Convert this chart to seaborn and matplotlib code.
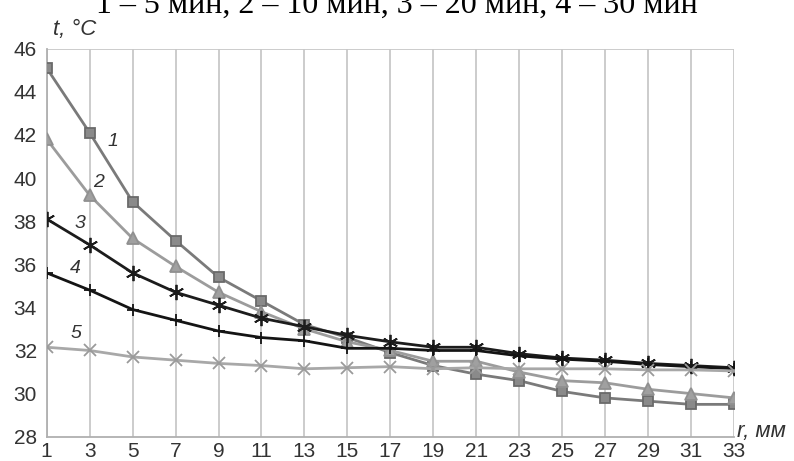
import numpy as np
import pandas as pd
import matplotlib
matplotlib.use("Agg")
import matplotlib.pyplot as plt
import seaborn as sns

# radius, mm
r_mm = [1, 3, 5, 7, 9, 11, 13, 15, 17, 19, 21, 23, 25, 27, 29, 31, 33]

# temperature curves
t_5min = [45.1, 42.1, 38.9, 37.1, 35.4, 34.3, 33.2, 32.6, 31.9, 31.3, 30.9, 30.6, 30.1, 29.8, 29.65, 29.5, 29.5]
t_10min = [41.8, 39.2, 37.2, 35.9, 34.7, 33.8, 33.0, 32.4, 32.0, 31.5, 31.5, 31.0, 30.6, 30.5, 30.2, 30.0, 29.8]
t_20min = [38.1, 36.9, 35.6, 34.7, 34.1, 33.5, 33.1, 32.7, 32.4, 32.15, 32.15, 31.85, 31.65, 31.55, 31.4, 31.3, 31.2]
t_30min = [35.6, 34.8, 33.9, 33.4, 32.9, 32.6, 32.45, 32.1, 32.1, 32.0, 32.0, 31.75, 31.6, 31.5, 31.35, 31.25, 31.15]
t_5 = [32.15, 32.0, 31.7, 31.55, 31.4, 31.3, 31.15, 31.2, 31.25, 31.15, 31.2, 31.15, 31.15, 31.15, 31.1, 31.1, 31.05]

curve_names = ["1", "2", "3", "4", "5"]
y_ticks = [28, 30, 32, 34, 36, 38, 40, 42, 44, 46]

sns.set_style("white")
plt.rcParams["font.family"] = ["Liberation Sans", "DejaVu Sans"]

fig = plt.figure(figsize=(7.94, 4.61), dpi=100)
ax = fig.add_axes([0.0588, 0.0527, 0.8656, 0.8417])

# (values, line colour, marker, marker face, marker edge, size)
styles = [
    (t_5min, "#7a7a7a", "s", "#8a8a8a", "#6a6a6a", 7.5),
    (t_10min, "#9c9c9c", "^", "#a0a0a0", "#909090", 8),
    (t_20min, "#1c1c1c", (6, 2, 0), "#1c1c1c", "#1c1c1c", 11),
    (t_30min, "#141414", "+", "#141414", "#141414", 9),
    (t_5, "#a8a8a8", "x", "#9a9a9a", "#9a9a9a", 9),
]

for name, (vals, col, mk, mfc, mec, ms) in zip(curve_names, styles):
    df = pd.DataFrame({"r": r_mm, "t": vals})
    sns.lineplot(data=df, x="r", y="t", ax=ax, color=col, linewidth=2,
                 marker=mk, markersize=ms, markerfacecolor=mfc,
                 markeredgecolor=mec, markeredgewidth=1.3, legend=False,
                 zorder=3)

# curve numbers
label_pos = [(4.1, 41.7), (3.4, 39.8), (2.55, 37.9), (2.35, 35.8), (2.35, 32.8)]
for name, (lx, ly) in zip(curve_names, label_pos):
    ax.text(lx, ly, name, fontsize=14, style="italic", color="#333333",
            ha="center", va="center")

ax.set_xlim(1, 33)
ax.set_ylim(28, 46)
ax.set_xticks(r_mm)
ax.set_yticks(y_ticks)
ax.tick_params(axis="both", length=0, labelsize=15, colors="#333333")
ax.tick_params(axis="y", pad=7)
ax.tick_params(axis="x", pad=3.5)
ax.grid(axis="x", color="#c8c8c8", linewidth=1.3)
ax.grid(axis="y", visible=False)
ax.axhline(46, color="#c8c8c8", linewidth=1.3, zorder=1)
for side in ["top", "right"]:
    ax.spines[side].set_visible(False)
for side in ["left", "bottom"]:
    ax.spines[side].set_color("#b0b0b0")
    ax.spines[side].set_linewidth(1.3)
ax.set_xlabel("")
ax.set_ylabel("")

fig.text(53 / 794, 1 - 35 / 461, "t, °C", fontsize=16, style="italic",
         color="#333333", va="baseline", ha="left")
fig.text(737 / 794, 1 - 437 / 461, "r, мм", fontsize=16, style="italic",
         color="#333333", va="baseline", ha="left")

fig.text(0.5, 1 - 13 / 461, "1 – 5 мин, 2 – 10 мин, 3 – 20 мин, 4 – 30 мин",
         family="Liberation Serif", fontsize=23, color="black",
         ha="center", va="baseline")

fig.savefig("out.png", dpi=100)
